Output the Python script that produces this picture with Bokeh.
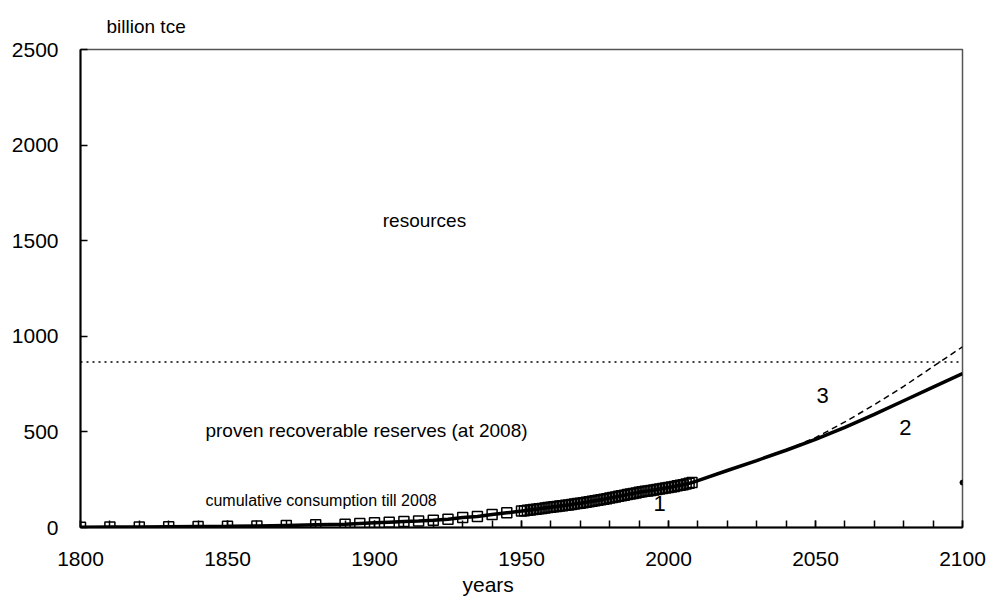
from bokeh.plotting import figure
from bokeh.models import Range1d, FixedTicker, Label, Title
from bokeh.embed import file_html
from bokeh.resources import INLINE

# ---- data ----
hist_years = [1800, 1810, 1820, 1830, 1840, 1850, 1860, 1870, 1880, 1890,
              1895, 1900, 1905, 1910, 1915, 1920, 1925, 1930, 1935, 1940, 1945,
              1950, 1951, 1952, 1953, 1954, 1955, 1956, 1957, 1958, 1959,
              1960, 1961, 1962, 1963, 1964, 1965, 1966, 1967, 1968, 1969,
              1970, 1971, 1972, 1973, 1974, 1975, 1976, 1977, 1978, 1979,
              1980, 1981, 1982, 1983, 1984, 1985, 1986, 1987, 1988, 1989,
              1990, 1991, 1992, 1993, 1994, 1995, 1996, 1997, 1998, 1999,
              2000, 2001, 2002, 2003, 2004, 2005, 2006, 2007, 2008]
hist_values = [1, 2, 3, 4, 5, 6, 8, 11, 14, 17,
               21, 25, 28, 31, 34, 38, 43, 52, 58, 68, 77,
               86, 88, 90, 92, 94, 96, 98, 100, 102, 104,
               106, 108, 110, 112, 114, 116, 118, 120, 122.5, 125,
               127, 129.5, 132, 134.5, 137, 139.5, 142, 145, 148, 151,
               154, 157, 160, 163, 166, 169, 172, 175, 178, 181,
               184, 186.5, 189, 191.5, 194, 196.5, 199, 201.5, 204, 206.5,
               209, 212, 215, 218, 221, 224, 227.5, 231, 235]

proj2_years = [2008, 2010, 2020, 2030, 2040, 2050, 2060, 2070, 2080, 2090, 2100]
proj2_values = [235, 245, 298, 350, 404, 461, 524, 592, 663, 734, 805]

proj3_years = [2008, 2010, 2020, 2030, 2040, 2050, 2060, 2070, 2080, 2090, 2100]
proj3_values = [235, 245, 298, 350, 406, 470, 552, 642, 738, 842, 945]

reserves_level = 865
reserves_span = [1800, 2100]
cum_2008_year = 2100
cum_2008_value = 235

x_major_ticks = [1800, 1850, 1900, 1950, 2000, 2050, 2100]
x_minor_ticks = list(range(1800, 2101, 10))
y_ticks = [0, 500, 1000, 1500, 2000, 2500]

FONT = "Liberation Sans"

p = figure(width=990, height=600,
           x_range=Range1d(1800, 2100), y_range=Range1d(0, 2500),
           output_backend="svg", toolbar_location=None,
           min_border_left=80, min_border_right=28,
           min_border_top=49, min_border_bottom=73)
p.background_fill_color = "white"
p.border_fill_color = "white"
p.outline_line_color = "#555555"
p.outline_line_width = 1.5
p.xgrid.visible = False
p.ygrid.visible = False

# axes
p.xaxis.ticker = FixedTicker(ticks=x_major_ticks, minor_ticks=x_minor_ticks)
p.yaxis.ticker = FixedTicker(ticks=y_ticks)
for ax in (p.xaxis, p.yaxis):
    ax.axis_line_color = "black"
    ax.axis_line_width = 2
    ax.major_tick_line_color = "black"
    ax.major_tick_line_width = 1.5
    ax.major_tick_in = 7
    ax.major_tick_out = 0
    ax.major_label_text_font = FONT
    ax.major_label_text_font_size = "21px"
    ax.major_label_text_color = "black"
p.xaxis.minor_tick_line_color = "black"
p.xaxis.minor_tick_line_width = 1.5
p.xaxis.minor_tick_in = 7
p.xaxis.minor_tick_out = 0
p.yaxis.minor_tick_line_color = None
p.xaxis.major_label_standoff = 24
p.yaxis.major_label_standoff = 22

# unit label above and axis title below
p.add_layout(Title(text="billion tce", align="left", offset=26, standoff=26,
                   text_font=FONT, text_font_size="19px", text_font_style="normal",
                   text_color="black"), "above")
p.add_layout(Title(text="years", align="left", offset=382, standoff=5,
                   text_font=FONT, text_font_size="21px", text_font_style="normal",
                   text_color="black", vertical_align="bottom"), "below")

# reserves line
p.line(reserves_span, [reserves_level, reserves_level], line_color="black",
       line_width=1.5, line_dash="2 4")

# curve 3 (dashed)
p.line(proj3_years, proj3_values, line_color="black", line_width=1.5, line_dash="6 4")

# curve 1 + 2 thick line
p.line(hist_years + proj2_years, hist_values + proj2_values, line_color="black", line_width=3.5)

# historical markers
p.scatter(hist_years, hist_values, marker="square", size=10, fill_alpha=0,
          line_color="black", line_width=1.5)

# cumulative consumption marker on the right axis
p.scatter([cum_2008_year], [cum_2008_value], marker="circle", size=5,
          fill_color="black", line_color="black")

# text labels
def lab(x, y, t, size, align="left"):
    p.add_layout(Label(x=x, y=y, text=t, text_font=FONT, text_font_size=size,
                       text_color="black", text_align=align, text_baseline="middle"))

lab(1917, 1606, "resources", "19px", "center")
lab(1842.5, 507, "proven recoverable reserves  (at 2008)", "19px")
lab(1842.5, 141, "cumulative consumption till 2008", "16px")
lab(1997, 125, "1", "22px", "center")
lab(2080.6, 523, "2", "22px", "center")
lab(2052.4, 690, "3", "22px", "center")

open("out.html", "w").write(file_html(p, INLINE))
